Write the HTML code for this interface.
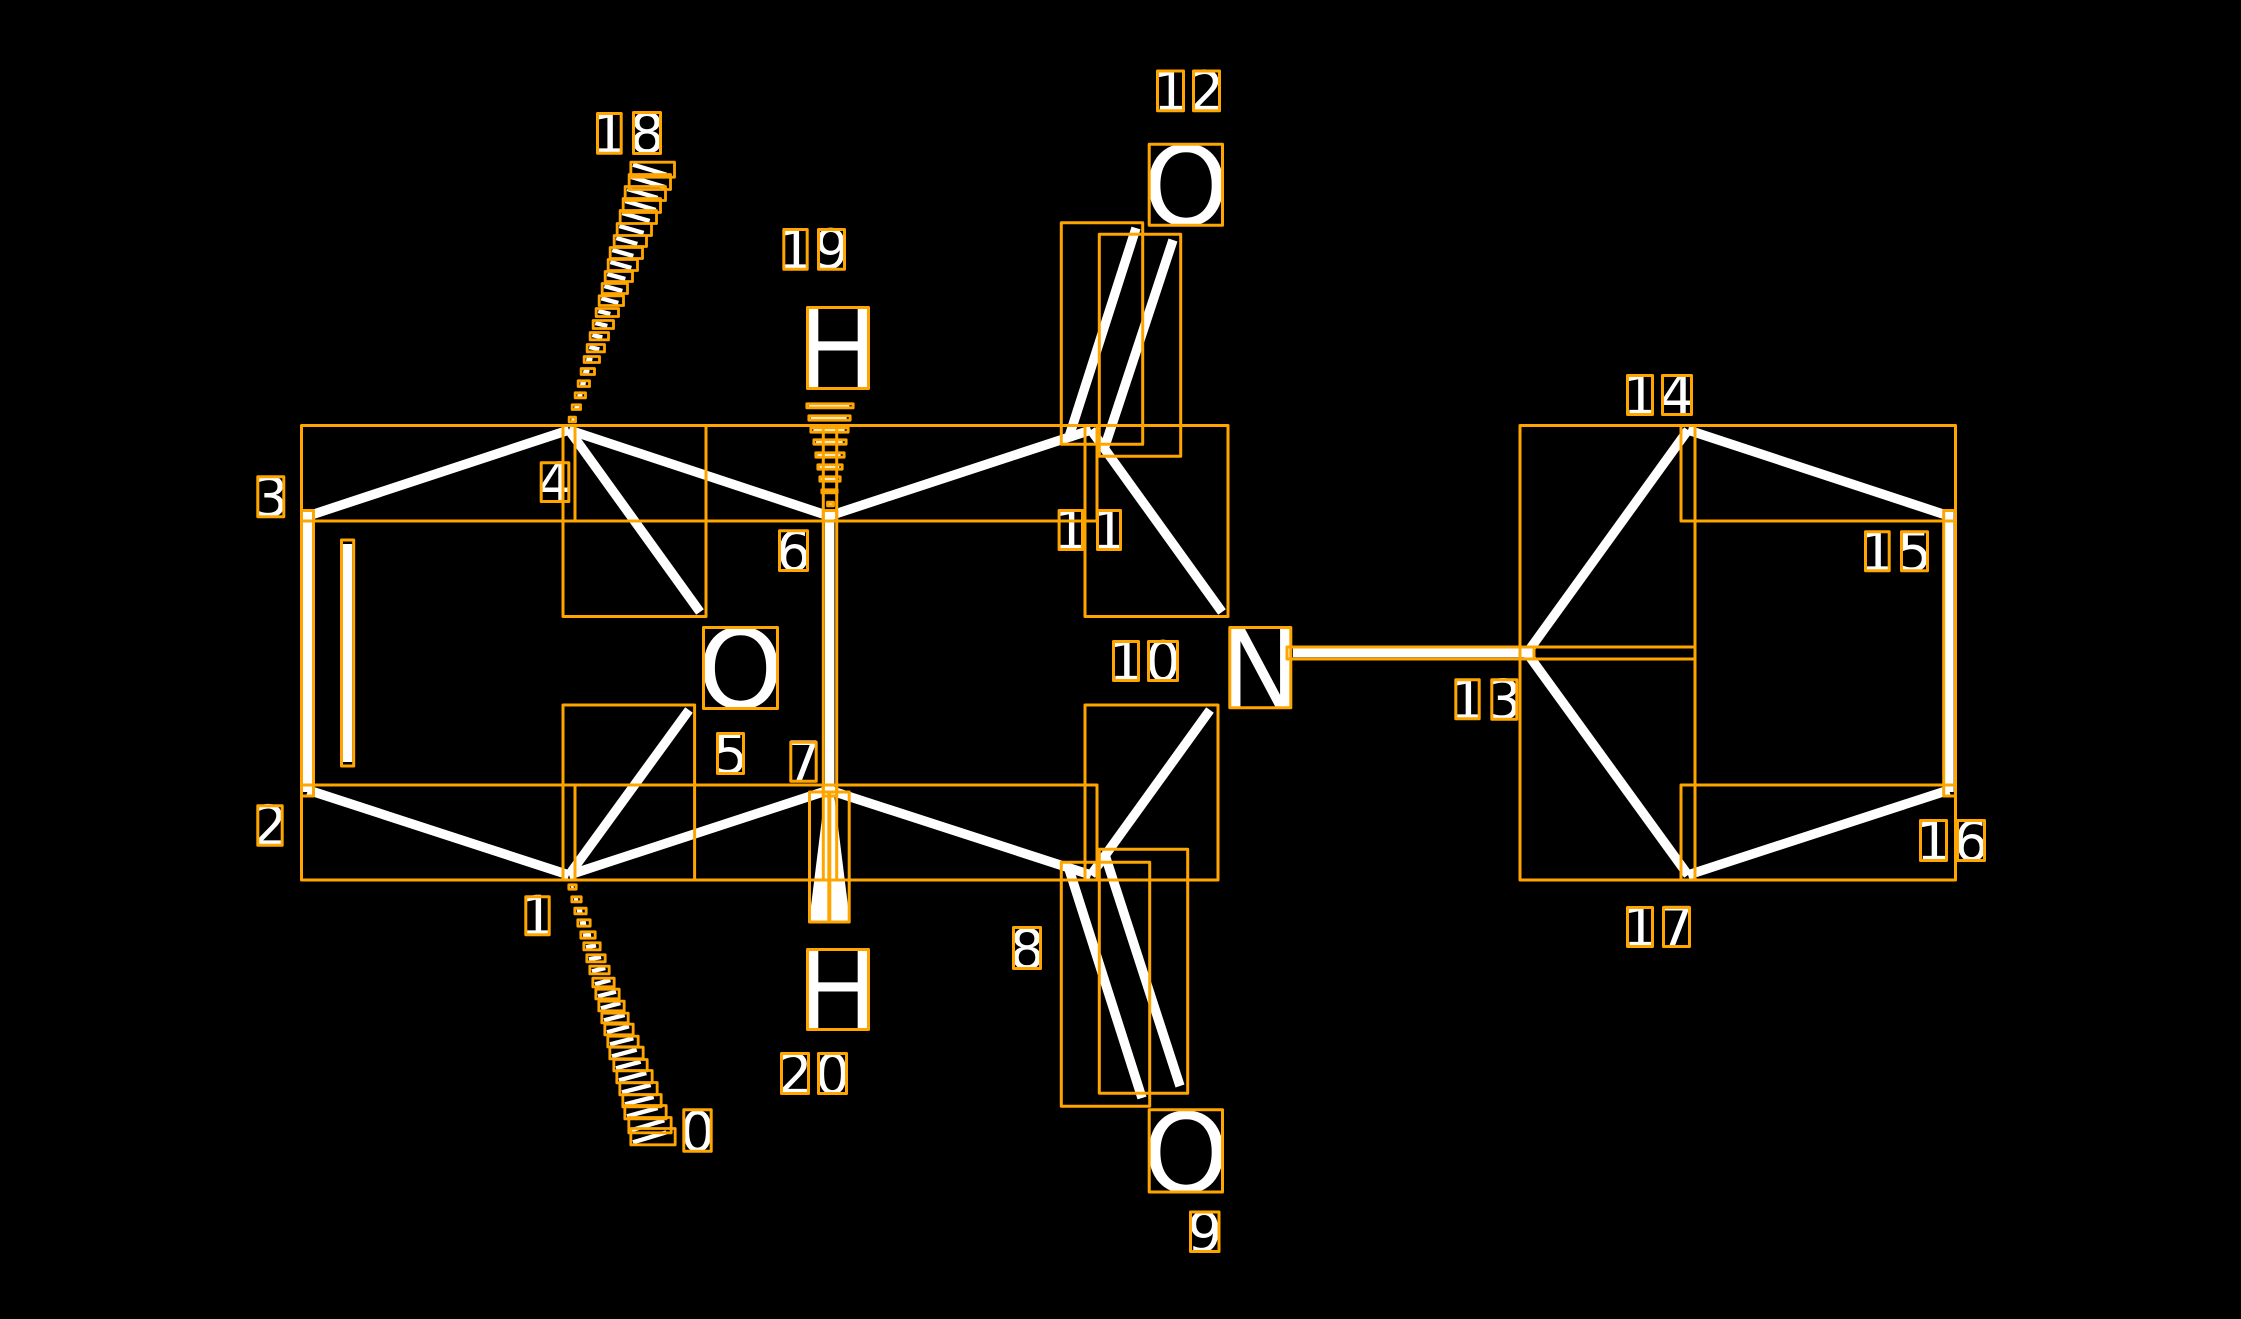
<!DOCTYPE html>
<html>
<head>
<meta charset="utf-8">
<style>
html,body{margin:0;padding:0;background:#000;}
svg{display:block;}
text{font-family:"DejaVu Sans",sans-serif;fill:#fff;text-anchor:middle;}
.s{font-size:55px;}
.b{font-size:110px;}
</style>
</head>
<body>
<svg xmlns="http://www.w3.org/2000/svg" width="2241" height="1319" viewBox="0 0 2241 1319">
<rect width="2241" height="1319" fill="#000"/>

<!-- bonds -->
<g stroke="#fff" stroke-width="9.4" fill="none" stroke-linecap="butt">
<path d="M308 516L569 430"/>
<path d="M569 430L829 516"/>
<path d="M829 516L1091 430"/>
<path d="M308 790L569 875"/>
<path d="M569 875L829 790"/>
<path d="M829 790L1091 875"/>
<path d="M307.5 512V792"/>
<path d="M347.5 544V762"/>
<path d="M829.7 512V792"/>
<path d="M569 430L700 612"/>
<path d="M569 875L689 710"/>
<path d="M1091 430L1222 612"/>
<path d="M1091 875L1210 710"/>
<path d="M1136 228L1068 440"/>
<path d="M1173 240L1103 452"/>
<path d="M1142 1098L1068 866"/>
<path d="M1180 1086L1105 855"/>
<path d="M1293 652.5H1533"/>
<path d="M1527 653L1688 430"/>
<path d="M1527 653L1688 875"/>
<path d="M1688 430L1949 516"/>
<path d="M1688 875L1949 790"/>
<path d="M1949 512V792"/>
</g>
<polygon points="825.5,790 833.5,790 850,922 809,922" fill="#fff"/>

<!-- hashed wedge rungs -->
<g transform="translate(520 90) scale(.33333)">
<path fill="none" stroke="#fff" stroke-width="13" d="M339 224l100 30M334 261l100 30M322 297l91 27M316 333l91 27M307 369l82 24M298 408l73 21M289 444l63 18M277 480l63 18M271 516l63 18M262 552l54 15M253 588l54 15M244 625l51 14M235 663l36 9M226 699l36 9M217 735l30 7M208 771l30 7M199 807l18 3M190 843l18 3M181 880l16 2M172 916l15 2M163 952l14 2M154 989l10 1"/>
</g>
<g transform="translate(540 860) scale(.33333)">
<path fill="none" stroke="#fff" stroke-width="13" d="M93 80l8 -1M102 118l12 -2M111 154l16 -2M120 191l18 -3M129 227l24 -3M138 262l30 -6M147 298l36 -7M156 334l40 -10M165 373l46 -13M174 409l54 -14M183 445l58 -16M192 481l62 -16M201 517l66 -18M210 553l70 -18M216 589l74 -20M228 625l74 -20M237 661l82 -22M246 697l86 -22M255 733l86 -22M261 769l92 -25M273 811l100 -30M279 847l100 -30"/>
</g>
<g transform="translate(760 290) scale(.33333)">
<path fill="none" stroke="#fff" stroke-width="10" d="M146 347.5H268M152 384H260M160 420H254M168 456H248M172 495H242M178 531H238M183 567H232M190 604H226M201 642H218"/>
</g>

<!-- labels -->
<text class="s" x="609.3" y="153">1</text>
<text class="s" x="647" y="152.5">8</text>
<text class="s" x="795.5" y="269">1</text>
<text class="s" x="831.5" y="268.5">9</text>
<text class="s" x="1170.5" y="110.5">1</text>
<text class="s" x="1206.5" y="110.5">2</text>
<text class="b" x="1186" y="225">O</text>
<text class="b" x="838" y="388.5">H</text>
<text class="s" x="270.8" y="516.5">3</text>
<text class="s" x="555" y="501.5">4</text>
<text class="s" x="793.5" y="570.5">6</text>
<text class="s" x="1070.8" y="549.5">1</text>
<text class="s" x="1109" y="549.5">1</text>
<text class="s" x="1126" y="680.5">1</text>
<text class="s" x="1163" y="680.5">0</text>
<text class="b" x="740.5" y="708">O</text>
<text class="b" x="1260.3" y="707.8">N</text>
<text class="s" x="730.5" y="773.5">5</text>
<text class="s" x="803.5" y="781.2">7</text>
<text class="s" x="270" y="845.2">2</text>
<text class="s" x="537.5" y="934.8">1</text>
<text class="s" x="1027" y="968.5">8</text>
<text class="b" x="838" y="1029.5">H</text>
<text class="s" x="795" y="1093.5">2</text>
<text class="s" x="832.5" y="1093.5">0</text>
<text class="s" x="697.5" y="1151">0</text>
<text class="b" x="1186" y="1192">O</text>
<text class="s" x="1204.8" y="1251.5">9</text>
<text class="s" x="1467.5" y="718.8">1</text>
<text class="s" x="1504.3" y="719.2">3</text>
<text class="s" x="1640" y="414.5">1</text>
<text class="s" x="1677" y="414.5">4</text>
<text class="s" x="1877.3" y="570.8">1</text>
<text class="s" x="1914.5" y="570.8">5</text>
<text class="s" x="1933.5" y="860.5">1</text>
<text class="s" x="1971" y="860.5">6</text>
<text class="s" x="1640" y="946.5">1</text>
<text class="s" x="1676.5" y="946.5">7</text>

<!-- orange boxes -->
<g fill="none" stroke="#ffa500" stroke-width="3" stroke-linejoin="round">
<path d="M301.5 425.5H575V521H301.5Z"/>
<path d="M563 425.5H836.7V521H563Z"/>
<path d="M823.3 425.5H1097V521H823.3Z"/>
<path d="M1085 425.5H1228V616.5H1085Z"/>
<path d="M563 425.5H706V616.5H563Z"/>
<path d="M301.5 785H575V880H301.5Z"/>
<path d="M563 785H836.7V880H563Z"/>
<path d="M823.3 785H1097V880H823.3Z"/>
<path d="M1085 705H1218V880H1085Z"/>
<path d="M563 705H694.6V880H563Z"/>
<path d="M1061.3 222.7H1142.7V444.3H1061.3Z"/>
<path d="M1099.3 234.3H1180.7V456.3H1099.3Z"/>
<path d="M1061.3 862.3H1149.7V1106.3H1061.3Z"/>
<path d="M1099.3 849.3H1187.7V1093.3H1099.3Z"/>
<path d="M301.5 510.5H313.5V796H301.5Z"/>
<path d="M341.5 540H353.7V766H341.5Z"/>
<path d="M823.3 510.5H836.7V796H823.3Z"/>
<path d="M1287 647H1534V659H1287Z"/>
<path d="M1520 425.5H1695V659H1520Z"/>
<path d="M1520 647H1695V880H1520Z"/>
<path d="M1681 425.5H1955.5V521H1681Z"/>
<path d="M1943.7 510.5H1955.5V796H1943.7Z"/>
<path d="M1681 785H1955.5V880H1681Z"/>
<path d="M809.5 792H849.2V922H809.5Z"/>
<path d="M829.3 792V922" stroke-width="4"/>
<!-- label boxes -->
<rect x="597.5" y="113.5" width="23.7" height="39.7"/>
<rect x="633.5" y="112.5" width="27" height="41"/>
<rect x="783.8" y="229.5" width="23.4" height="39.7"/>
<rect x="818.5" y="229.5" width="26" height="39.7"/>
<rect x="1157.5" y="71" width="26" height="39.7"/>
<rect x="1193.5" y="71" width="26" height="39.7"/>
<rect x="1149.2" y="144.2" width="73.3" height="81"/>
<rect x="807.5" y="307.5" width="61" height="81"/>
<rect x="257.8" y="476.8" width="26" height="40"/>
<rect x="541.2" y="462.8" width="27.6" height="38.7"/>
<rect x="779.5" y="530.8" width="28" height="39.7"/>
<rect x="1059.1" y="510.5" width="23.4" height="39"/>
<rect x="1097.5" y="510.5" width="23" height="39"/>
<rect x="1113.5" y="641.5" width="25" height="39"/>
<rect x="1148.5" y="641.5" width="29" height="39"/>
<rect x="703.5" y="627.5" width="74" height="81"/>
<rect x="1229.8" y="627.5" width="61" height="80.3"/>
<rect x="717.5" y="733.5" width="26" height="40"/>
<rect x="790.8" y="742.2" width="25.4" height="39"/>
<rect x="257.8" y="805.8" width="24.4" height="39.4"/>
<rect x="525.8" y="896.8" width="23.4" height="38"/>
<rect x="1013.5" y="927.5" width="27" height="41"/>
<rect x="807.5" y="949.5" width="61" height="80"/>
<rect x="781.5" y="1053.5" width="27" height="40"/>
<rect x="818.5" y="1053.5" width="28" height="40"/>
<rect x="683.8" y="1109.8" width="27.4" height="41.4"/>
<rect x="1149.2" y="1109.8" width="73.3" height="82.2"/>
<rect x="1190.5" y="1212" width="28.5" height="39.5"/>
<rect x="1455.8" y="679.8" width="23.4" height="39"/>
<rect x="1491.8" y="679.8" width="25" height="39.4"/>
<rect x="1627.5" y="375.5" width="25" height="39"/>
<rect x="1662.5" y="375.5" width="29" height="39"/>
<rect x="1865.5" y="531.8" width="23.7" height="39"/>
<rect x="1901.5" y="531.8" width="26" height="39"/>
<rect x="1920.5" y="820.5" width="26" height="40"/>
<rect x="1957.5" y="820.5" width="27" height="40"/>
<rect x="1627.5" y="907.5" width="25" height="39"/>
<rect x="1663.5" y="907.5" width="26" height="39"/>
</g>

<!-- hashed wedge boxes -->
<g fill="none" stroke="#ffa500" stroke-width="8.5" stroke-linejoin="round">
<path transform="translate(520 90) scale(.33333)" d="M332.5 216.5h131v45h-131zM327.5 253.5h124v45h-124zM315.5 289.5h121v42h-121zM309.5 325.5h112v42h-112zM300.5 361.5h109v39h-109zM291.5 400.5h103v36h-103zM282.5 436.5h97v33h-97zM270.5 472.5h97v33h-97zM264.5 508.5h88v33h-88zM255.5 544.5h82v30h-82zM246.5 580.5h76v30h-76zM237.5 617.5h73v29h-73zM228.5 655.5h67v24h-67zM219.5 691.5h61v24h-61zM210.5 727.5h55v22h-55zM201.5 763.5h52v22h-52zM192.5 799.5h46v18h-46zM183.5 835.5h40v18h-40zM174.5 872.5h34v17h-34zM165.5 908.5h31v15h-31zM156.5 944.5h25v14h-25zM147.5 981.5h19v14h-19z"/>
<path transform="translate(540 860) scale(.33333)" d="M86.5 74.5h22v13h-22zM95.5 110.5h28v15h-28zM104.5 144.5h34v17h-34zM113.5 179.5h37v19h-37zM122.5 215.5h43v19h-43zM131.5 248.5h49v21h-49zM140.5 284.5h55v21h-55zM149.5 318.5h58v23h-58zM158.5 354.5h64v26h-64zM167.5 387.5h70v29h-70zM176.5 423.5h76v29h-76zM185.5 459.5h79v29h-79zM194.5 492.5h85v32h-85zM203.5 528.5h91v32h-91zM209.5 561.5h100v35h-100zM221.5 598.5h100v34h-100zM230.5 631.5h106v37h-106zM239.5 667.5h112v37h-112zM248.5 703.5h115v37h-115zM254.5 736.5h124v40h-124zM266.5 772.5h127v46h-127zM272.5 805.5h133v49h-133z"/>
<path transform="translate(760 290) scale(.33333)" d="M140.5 341.5h139v12h-139zM146.5 377.5h124v13h-124zM152.5 413.5h112v13h-112zM161.5 449.5h97v13h-97zM167.5 488.5h85v13h-85zM173.5 524.5h73v13h-73zM179.5 560.5h61v13h-61zM185.5 599.5h46v9h-46zM202.5 636.5h18v11h-18z"/>
</g>
</svg>
</body>
</html>
